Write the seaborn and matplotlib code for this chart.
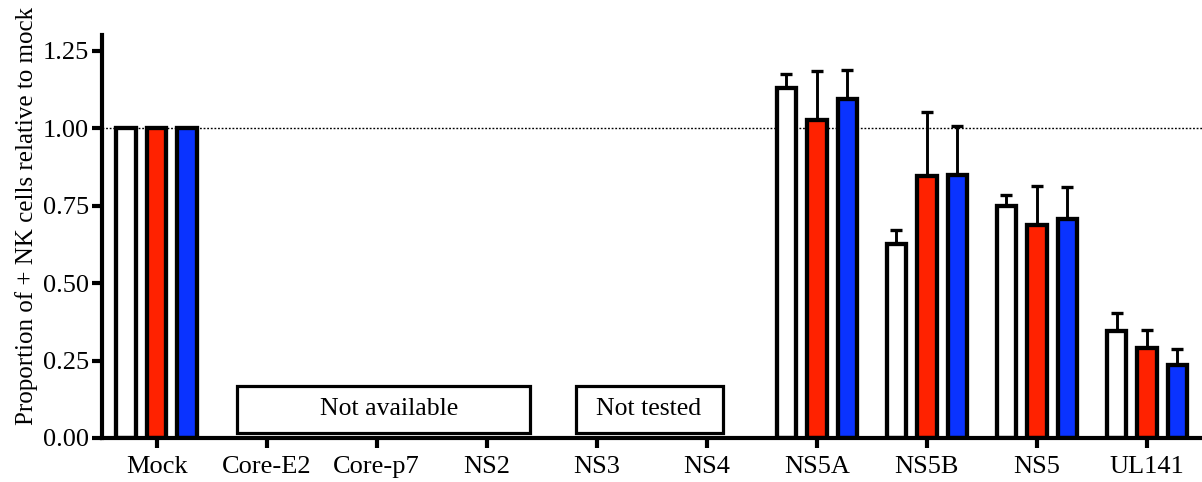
import numpy as np
import pandas as pd
import matplotlib
matplotlib.use("Agg")
import matplotlib.pyplot as plt
from matplotlib.patches import Rectangle
import seaborn as sns

# ---- data -------------------------------------------------------------
categories = ["Mock", "Core-E2", "Core-p7", "NS2", "NS3", "NS4",
              "NS5A", "NS5B", "NS5", "UL141"]
series = ["A", "B", "C"]

# mean proportion relative to mock (NaN = no measurement)
values_a = [1.00, np.nan, np.nan, np.nan, np.nan, np.nan, 1.130, 0.625, 0.748, 0.344]
values_b = [1.00, np.nan, np.nan, np.nan, np.nan, np.nan, 1.025, 0.845, 0.687, 0.290]
values_c = [1.00, np.nan, np.nan, np.nan, np.nan, np.nan, 1.095, 0.850, 0.707, 0.237]

# upper error (SEM)
err_a = [0.0, np.nan, np.nan, np.nan, np.nan, np.nan, 0.045, 0.045, 0.036, 0.060]
err_b = [0.0, np.nan, np.nan, np.nan, np.nan, np.nan, 0.160, 0.207, 0.127, 0.057]
err_c = [0.0, np.nan, np.nan, np.nan, np.nan, np.nan, 0.092, 0.155, 0.102, 0.050]

y_ticks = [0.00, 0.25, 0.50, 0.75, 1.00, 1.25]
y_label = "Proportion of + NK cells relative to mock"
note_unavailable = "Not available"
note_untested = "Not tested"

colors = ["#FFFFFF", "#FF2200", "#0A33FF"]

# ---- long-form table ---------------------------------------------------
rows = []
for s, vals in zip(series, [values_a, values_b, values_c]):
    for c, v in zip(categories, vals):
        if not np.isnan(v):
            rows.append({"group": c, "series": s, "value": v})
df = pd.DataFrame(rows)
errors = {s: dict(zip(categories, e)) for s, e in zip(series, [err_a, err_b, err_c])}

# ---- style -------------------------------------------------------------
sns.set_style("ticks")
plt.rcParams["font.family"] = ["Liberation Serif", "DejaVu Serif"]
plt.rcParams["mathtext.fontset"] = "stix"
for key in ["text.color", "axes.labelcolor", "xtick.color", "ytick.color",
            "axes.edgecolor"]:
    plt.rcParams[key] = "black"

fig = plt.figure(figsize=(12.02, 4.82), dpi=100)
ax = fig.add_axes([0.0845, 0.0913, 0.9155, 0.836])

ax.axhline(1.0, color="black", lw=1.0, ls=(0, (1.3, 1.3)), zorder=0)

sns.barplot(data=df, x="group", y="value", hue="series",
            order=categories, hue_order=series, palette=colors,
            width=0.83, gap=0.36, errorbar=None, legend=False,
            edgecolor="black", linewidth=3.1, saturation=1, ax=ax,
            zorder=3)

# one-sided error bars on top of each bar
for s, cont in zip(series, ax.containers):
    for patch in cont:
        h = patch.get_height()
        if np.isnan(h):
            continue
        xc = patch.get_x() + patch.get_width() / 2
        cat = categories[int(round(xc))]
        e = errors[s][cat]
        if e and e > 0:
            ax.errorbar(xc, h, yerr=[[0], [e]], fmt="none", ecolor="black",
                        elinewidth=2.1, capsize=4.2, capthick=2.4, zorder=2)

# annotation boxes for groups without measurements
for (x0, x1, tx, label) in [(0.73, 3.394, 2.117, note_unavailable),
                            (3.807, 5.145, 4.47, note_untested)]:
    ax.add_patch(Rectangle((x0, 0.016), x1 - x0, 0.153, facecolor="white",
                           edgecolor="black", lw=2.3, zorder=3))
    ax.text(tx, 0.092, label, ha="center", va="center", fontsize=18.5,
            zorder=4)

# ---- axes --------------------------------------------------------------
ax.set_xlim(-0.5, 9.5)
ax.set_ylim(0, 1.3)
ax.set_yticks(y_ticks)
ax.set_yticklabels([f"{t:.2f}" for t in y_ticks])
ax.set_xlabel("")
ax.set_ylabel(y_label, fontsize=18)
ax.yaxis.set_label_coords(-0.058, 0.55)

for side in ["top", "right"]:
    ax.spines[side].set_visible(False)
for side in ["left", "bottom"]:
    ax.spines[side].set_linewidth(3.0)
    ax.spines[side].set_zorder(5)
ax.tick_params(axis="both", which="major", length=7.2, width=3.0,
               labelsize=19, direction="out", color="black")
ax.tick_params(axis="y", pad=2)
ax.tick_params(axis="x", pad=6)

fig.savefig("out.png", dpi=100)
